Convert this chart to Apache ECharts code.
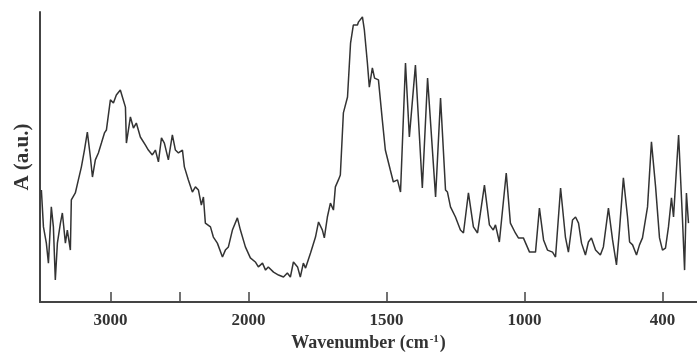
<!DOCTYPE html>
<html>
<head>
<meta charset="utf-8">
<script src="https://cdn.jsdelivr.net/npm/echarts@6/dist/echarts.min.js"></script>
<style>html,body{margin:0;padding:0;background:#fff}#main{width:697px;height:354px}</style>
</head>
<body>
<div id="main"></div>
<script>
// IR spectrum, wavenumber (cm-1) vs absorbance (a.u.)
var wavenumbers = [
    3500,3485,3464,3449,3428,3413,3399,3384,3362,3348,
    3326,3312,3290,3283,3254,3232,3210,3188,3167,3145,
    3130,3109,3087,3065,3043,3029,3000,2978,2957,2928,
    2913,2891,2884,2855,2833,2812,2783,2746,2725,2696,
    2674,2652,2630,2609,2580,2551,2529,2507,2478,2464,
    2435,2406,2384,2362,2341,2326,2312,2275,2254,2225,
    2188,2167,2145,2116,2080,2058,2022,1993,1975,1964,
    1949,1938,1928,1909,1891,1873,1859,1848,1837,1822,
    1812,1801,1793,1775,1757,1746,1732,1725,1714,1703,
    1692,1685,1674,1667,1656,1641,1630,1620,1605,1601,
    1587,1580,1569,1562,1551,1543,1529,1515,1504,1486,
    1475,1460,1449,1431,1417,1395,1370,1351,1322,1304,
    1286,1279,1268,1250,1232,1221,1203,1185,1170,1145,
    1127,1113,1105,1091,1066,1051,1033,1022,1004,978,
    952,935,917,900,878,865,843,822,809,791,
    778,765,752,735,722,709,691,670,657,635,
    617,600,587,570,552,543,530,513,500,487,
    465,448,430,413,400,387,374,361,352,335,
    330,313,304,296,287
];
var absorbance = [
    38.6,25.9,20.3,13.4,32.8,25.9,7.6,20.3,27.2,30.7,
    20.3,24.8,17.9,35.2,37.6,42.1,46.6,52.4,58.6,50,
    43.1,49,51.4,54.8,58.3,59.3,69.7,68.6,71.4,73.1,
    70.7,67.2,54.8,63.8,60,61.7,56.9,54.1,52.4,50.7,
    52.4,48.3,56.6,54.8,49,57.6,52.4,51.4,52.4,46.6,
    42.1,37.9,39.7,38.6,33.4,36.2,27.2,25.9,22.4,20.3,
    15.5,17.9,19,24.8,29,24.8,19,15.2,13.8,12.1,
    13.4,11,12.1,10.3,9.3,8.6,10,8.6,13.8,12.1,
    8.6,13.4,11.7,16.9,22.4,27.6,24.8,22.1,29.3,34.1,
    31.7,39.7,42.1,43.8,65.2,70.7,89.3,95.5,95.5,96.6,
    98.3,93.8,82.4,74.1,80.7,77.2,76.6,62.8,52.4,45.5,
    41.4,42.1,37.9,82.4,56.9,81.7,39.3,77.2,36.2,70.3,
    38.6,37.9,32.8,29.3,24.8,23.8,37.6,25.9,23.8,40.3,
    26.6,24.8,26.6,20.7,44.5,27.2,23.8,22.1,22.1,17.2,
    17.2,32.4,21.4,17.9,17.2,15.5,39.3,22.4,17.2,28.3,
    29.3,27.2,20.3,16.2,20.7,22.1,17.9,16.2,19,32.4,
    21.4,12.8,24.8,42.8,29.3,20.7,19.7,16.2,19.7,22.1,
    32.8,55.2,39.7,22.1,17.9,18.6,25.9,35.9,29.3,51.4,
    57.6,28.3,11,37.6,27.2
];
var tickWaves = [3000, 2500, 2000, 1500, 1000, 400];
var labelWaves = [3000, 2000, 1500, 1000, 400];

// the instrument axis is piecewise: compressed above 2000, stretched below
var knotWave = [3000, 2000, 1000, 400];
var knotPos = [0, 2, 6, 8];
function toAxis(w) {
    var i = 0;
    while (i < knotWave.length - 2 && w < knotWave[i + 1]) i++;
    return knotPos[i] + (w - knotWave[i]) * (knotPos[i + 1] - knotPos[i]) / (knotWave[i + 1] - knotWave[i]);
}

var font = '"Liberation Serif", "Times New Roman", serif';
var chart = echarts.init(document.getElementById('main'));
var option = {
    animation: false,
    grid: { left: 40, right: 0, top: 12, bottom: 52, outerBoundsMode: 'none' },
    xAxis: {
        type: 'value',
        min: toAxis(3510),
        max: toAxis(250),
        name: '{t|Wavenumber (cm}{s|-1}{t|)}',
        nameLocation: 'middle',
        nameGap: 30,
        nameTextStyle: {
            rich: {
                t: { fontFamily: font, fontWeight: 'bold', fontSize: 18, color: '#333' },
                s: { fontFamily: font, fontWeight: 'bold', fontSize: 11, color: '#333', padding: [0, 1, 8, 1] }
            }
        },
        splitLine: { show: false },
        axisLine: { lineStyle: { color: '#444', width: 2 } },
        axisTick: {
            inside: true, length: 10,
            customValues: tickWaves.map(toAxis),
            lineStyle: { color: '#444', width: 1.5 }
        },
        axisLabel: {
            margin: 10,
            customValues: labelWaves.map(toAxis),
            fontFamily: font, fontWeight: 'bold', fontSize: 17, color: '#333',
            formatter: function (v) {
                for (var i = 0; i < labelWaves.length; i++) {
                    if (Math.abs(toAxis(labelWaves[i]) - v) < 1e-6) return String(labelWaves[i]);
                }
                return '';
            }
        }
    },
    yAxis: {
        type: 'value',
        min: 0,
        max: 100,
        name: 'A (a.u.)',
        nameLocation: 'middle',
        nameGap: 7,
        nameTextStyle: { fontFamily: font, fontWeight: 'bold', fontSize: 21, color: '#333' },
        splitLine: { show: false },
        axisLine: { show: true, onZero: false, lineStyle: { color: '#444', width: 2 } },
        axisTick: { show: false },
        axisLabel: { show: false }
    },
    series: [{
        type: 'line',
        showSymbol: false,
        data: wavenumbers.map(function (w, i) { return [toAxis(w), absorbance[i]]; }),
        lineStyle: { color: '#333', width: 1.5 }
    }]
};
chart.setOption(option);
</script>
</body>
</html>
